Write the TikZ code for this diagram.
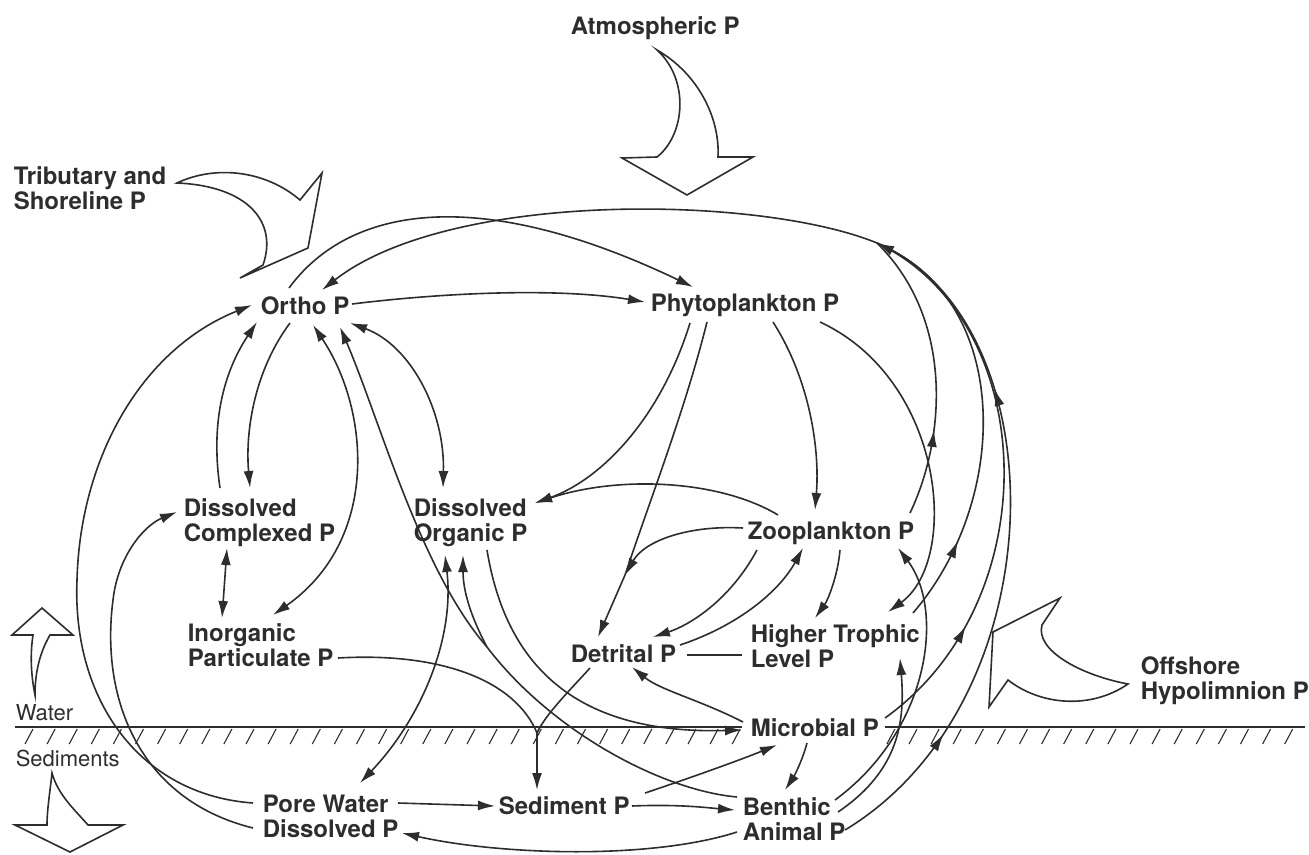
\documentclass[tikz,border=0pt]{standalone}
\usepackage{fontspec}
\setmainfont{TeX Gyre Heros}
\usetikzlibrary{arrows.meta,decorations.markings}
\definecolor{ink}{RGB}{45,45,45}
\begin{document}
\begin{tikzpicture}[x=1pt,y=-1pt,line width=1.6pt,draw=ink,
  >={Latex[length=17pt,width=10pt]},
  lbl/.style={font=\fontsize{24}{25}\selectfont\bfseries,inner sep=0pt,anchor=north west,align=left,text=ink},
  thin lbl/.style={font=\fontsize{22}{24}\selectfont,inner sep=0pt,anchor=north west,align=left,text=ink},
  blk/.style={draw=ink,fill=white,line width=1.6pt,line join=miter},
  midarr/.style={postaction={decorate,decoration={markings,mark=at position #1 with {\arrow{>}}}}}]
\useasboundingbox (0,0) rectangle (1309,854);

% block arrows
\draw[blk] (177,183) .. controls (215,165) and (265,170) .. (300,200) -- (322,173) -- (308,248) -- (240,278) -- (263,265) .. controls (278,222) and (248,186) .. (177,183) -- cycle;
\draw[blk] (657,50) .. controls (700,75) and (720,120) .. (718,157) -- (753,157) -- (687,195) -- (622,158) -- (657,157) .. controls (685,135) and (690,80) .. (657,50) -- cycle;
\draw[blk] (1128,684) .. controls (1080,675) and (1035,650) .. (1042,625) -- (1060,598) -- (993,632) -- (989,707) -- (1008,680) .. controls (1040,705) and (1090,710) .. (1128,684) -- cycle;
\draw[blk] (42,608) -- (73,635) -- (50,635) .. controls (40,652) and (35,672) .. (35,695) .. controls (31,675) and (30,655) .. (33,635) -- (12,635) -- cycle;
\draw[blk] (52,773) .. controls (50,792) and (47,810) .. (47,825) -- (15,825) -- (70,852) -- (123,825) -- (88,825) .. controls (75,810) and (58,795) .. (52,773) -- cycle;

% water / sediment boundary
\draw[line width=1.3pt] (15,727) -- (742,727) (885,727) -- (1305,727);
\foreach \i in {0,...,32} {\draw[line width=1.1pt] ({33+22.1*\i},729) -- ({25+22.1*\i},744);}
\foreach \i in {39,...,57} {\draw[line width=1.1pt] ({33+22.1*\i},729) -- ({25+22.1*\i},744);}

% labels
\node[lbl] (atm) at (570,16) {Atmospheric P};
\node[lbl] (trib) at (13,166) {Tributary and\\Shoreline P};
\node[lbl] (off) at (1140,656) {Offshore\\Hypolimnion P};
\node[thin lbl] (water) at (15,704) {Water};
\node[thin lbl] (sedl) at (15,749) {Sediments};

% compartments
\node[lbl] (ortho) at (260,296) {Ortho P};
\node[lbl] (phyto) at (650,293) {Phytoplankton P};
\node[lbl] (dcp) at (183,498) {Dissolved\\Complexed P};
\node[lbl] (dop) at (413,498) {Dissolved\\Organic P};
\node[lbl] (zoo) at (747,521) {Zooplankton P};
\node[lbl] (ipp) at (187,623) {Inorganic\\Particulate P};
\node[lbl] (detr) at (570,644) {Detrital P};
\node[lbl] (htl) at (750,624) {Higher Trophic\\Level P};
\node[lbl,fill=white] (micro) at (750,718) {Microbial P};
\node[lbl] (sed) at (498,796) {Sediment P};
\node[lbl] (benth) at (742,797) {Benthic\\Animal P};
\node[lbl] (pore) at (262,794) {Pore Water\\Dissolved P};

\coordinate (bus) at (877,243);
\coordinate (ysplit) at (537,733);
\coordinate (branch) at (487,647);
\coordinate (merge) at (625,575);

% Ortho P links
\draw[->] ([shift={(92,8)}]ortho.north west) .. controls (450,292) and (560,288) .. ([shift={(-5,9)}]phyto.north west);
\draw[->] ([shift={(29,-8)}]ortho.north west) .. controls (350,205) and (480,185) .. ([shift={(43,-6)}]phyto.north west);
\draw[->] (bus) .. controls (760,195) and (450,190) .. ([shift={(62,-6)}]ortho.north west);
\draw[<->] ([shift={(90,27)}]ortho.north west) .. controls (410,345) and (445,410) .. ([shift={(30,-10)}]dop.north west);
\draw[<->] ([shift={(53,29)}]ortho.north west) .. controls (370,410) and (380,540) .. ([shift={(86,-8)}]ipp.north west);
\draw[->] ([shift={(37,-10)}]dcp.north west) .. controls (210,420) and (225,370) .. ([shift={(-3,26)}]ortho.north west);
\draw[->] ([shift={(30,27)}]ortho.north west) .. controls (255,370) and (245,430) .. ([shift={(67,-10)}]dcp.north west);
\draw[<->] ([shift={(44,50)}]dcp.north west) -- ([shift={(35,-5)}]ipp.north west);
\draw[->] ([shift={(-9,9)}]pore.north west) .. controls (140,795) and (72,700) .. (77,580) .. controls (80,460) and (140,350) .. ([shift={(-8,9)}]ortho.north west);
\draw[->] ([shift={(-9,34)}]pore.north west) .. controls (140,800) and (100,700) .. (113,600) .. controls (118,555) and (145,525) .. ([shift={(-6,14)}]dcp.north west);

% feeders into the top bus
\draw[midarr=0.3] ([shift={(163,-8)}]zoo.north west) .. controls (945,440) and (955,320) .. (bus);
\draw[->,midarr=0.2] ([shift={(163,-11)}]htl.north west) .. controls (1010,500) and (1010,310) .. (bus);
\draw[midarr=0.22] ([shift={(135,0)}]micro.north west) .. controls (1050,600) and (1040,320) .. (bus);
\draw[midarr=0.2,midarr=0.72] ([shift={(103,33)}]benth.north west) .. controls (1060,700) and (1060,320) .. (bus);

% plankton links
\draw[->] ([shift={(170,29)}]phyto.north west) .. controls (945,380) and (960,560) .. ([shift={(138,-12)}]htl.north west);
\draw[->] ([shift={(123,29)}]phyto.north west) .. controls (810,380) and (820,450) .. ([shift={(68,-11)}]zoo.north west);
\draw[->] ([shift={(40,30)}]phyto.north west) .. controls (660,420) and (600,480) .. ([shift={(122,5)}]dop.north west);
\draw[->] ([shift={(31,-6)}]zoo.north west) .. controls (720,480) and (620,475) .. ([shift={(122,5)}]dop.north west);
\draw ([shift={(57,29)}]phyto.north west) .. controls (685,410) and (650,500) .. (merge);
\draw[->] (merge) -- ([shift={(28,-7)}]detr.north west);
\draw[->] ([shift={(-4,7)}]zoo.north west) .. controls (690,525) and (645,540) .. (merge);
\draw[->] ([shift={(10,29)}]zoo.north west) .. controls (730,600) and (690,625) .. ([shift={(83,-7)}]detr.north west);
\draw[->] ([shift={(110,1)}]detr.north west) .. controls (740,625) and (780,590) .. ([shift={(56,27)}]zoo.north west);
\draw[->] ([shift={(93,29)}]zoo.north west) .. controls (838,575) and (828,600) .. ([shift={(65,-6)}]htl.north west);
\draw ([shift={(117,11)}]detr.north west) -- ([shift={(-8,31)}]htl.north west);

% benthic / microbial links
\draw[->] ([shift={(93,3)}]benth.north west) .. controls (930,730) and (945,610) .. ([shift={(151,27)}]zoo.north west);
\draw[->] ([shift={(96,15)}]benth.north west) .. controls (900,770) and (905,720) .. ([shift={(150,34)}]htl.north west);
\draw[->] ([shift={(-7,4)}]micro.north west) .. controls (700,700) and (660,690) .. ([shift={(62,23)}]detr.north west);
\draw[->] ([shift={(74,52)}]dop.north west) .. controls (505,660) and (570,735) .. ([shift={(-8,12)}]micro.north west);
\draw[->] ([shift={(147,-3)}]sed.north west) .. controls (690,778) and (740,760) .. ([shift={(27,27)}]micro.north west);
\draw[->] ([shift={(57,25)}]micro.north west) .. controls (802,762) and (793,778) .. ([shift={(43,-7)}]benth.north west);
\draw[->] ([shift={(134,10)}]sed.north west) .. controls (680,804) and (710,808) .. ([shift={(-7,13)}]benth.north west);
\draw[->] ([shift={(136,9)}]pore.north west) -- ([shift={(-3,10)}]sed.north west);
\draw[->] ([shift={(-5,35)}]benth.north west) .. controls (650,860) and (500,855) .. ([shift={(140,39)}]pore.north west);
\draw ([shift={(20,24)}]detr.north west) .. controls (570,690) and (545,715) .. (ysplit);
\draw ([shift={(151,35)}]ipp.north west) .. controls (440,652) and (515,680) .. (ysplit);
\draw[->] (ysplit) -- ([shift={(39,-6)}]sed.north west);
\draw ([shift={(-5,0)}]benth.north west) .. controls (660,790) and (550,730) .. (branch);
\draw[->] (branch) .. controls (420,570) and (380,420) .. ([shift={(80,31)}]ortho.north west);
\draw[->] (branch) .. controls (470,615) and (463,590) .. ([shift={(50,57)}]dop.north west);
\draw[<->] ([shift={(32,57)}]dop.north west) .. controls (455,640) and (420,720) .. ([shift={(98,-11)}]pore.north west);
\end{tikzpicture}
\end{document}
